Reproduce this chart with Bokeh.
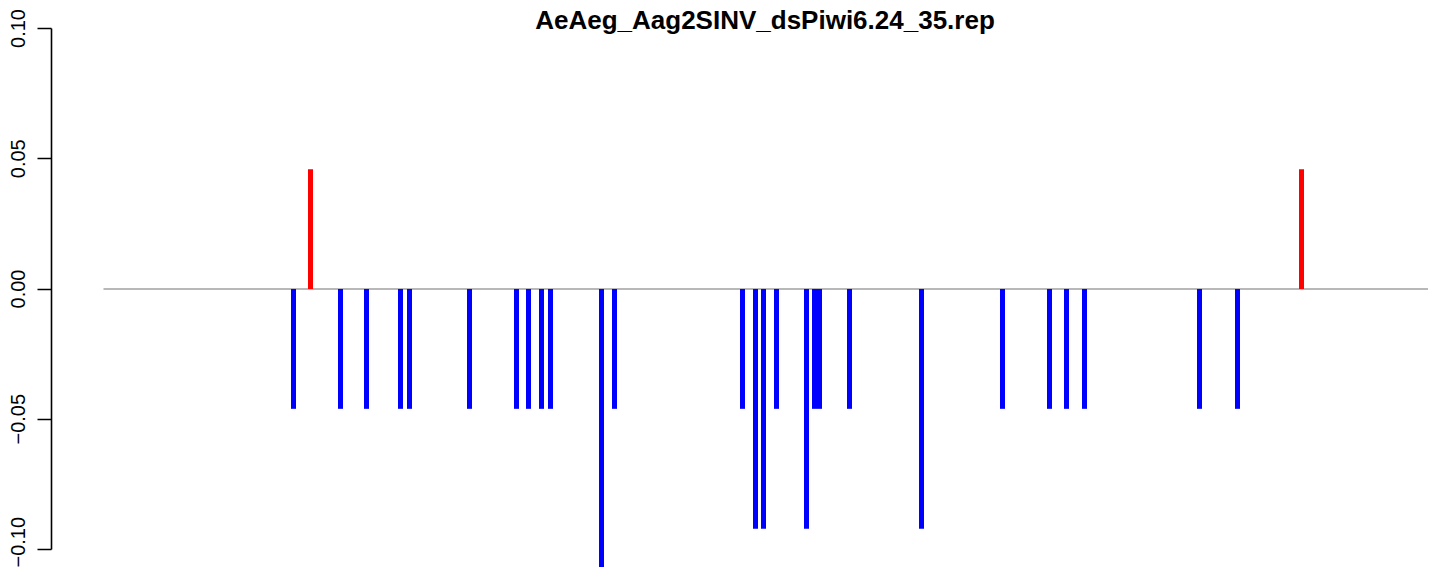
from bokeh.plotting import figure
from bokeh.models import Range1d, FixedTicker, CustomJSTickFormatter, Label
from bokeh.embed import file_html
from bokeh.resources import INLINE

# ---------------- data ----------------
TITLE = "AeAeg_Aag2SINV_dsPiwi6.24_35.rep"
REF_LENGTH = 1329          # extent of the zero baseline (position units)

# antisense (blue, negative) reads
NEG_POS = [190, 237, 263, 297, 306, 366, 413, 425, 438, 447, 498, 511,
           639, 652, 660, 673, 703, 711, 716, 746, 818, 899, 946, 963,
           981, 1096, 1134]
NEG_VAL = [-0.046, -0.046, -0.046, -0.046, -0.046, -0.046, -0.046, -0.046,
           -0.046, -0.046, -0.138, -0.046, -0.046, -0.092, -0.092, -0.046,
           -0.092, -0.046, -0.046, -0.046, -0.092, -0.046, -0.046, -0.046,
           -0.046, -0.046, -0.046]

# sense (red, positive) reads
POS_POS = [207, 1198]
POS_VAL = [0.046, 0.046]

Y_TICKS = [-0.10, -0.05, 0.0, 0.05, 0.10]

# ---------------- figure ----------------
W, H = 1428, 567
LEFT = 51
X_START = -52
Y_TOP = 0.110749
Y_BOTTOM = Y_TOP - H / 2605.0

p = figure(width=W, height=H, output_backend="svg", toolbar_location=None,
           x_range=Range1d(X_START, X_START + (W - LEFT)),
           y_range=Range1d(Y_BOTTOM, Y_TOP),
           min_border_left=LEFT, min_border_right=0, min_border_top=0,
           min_border_bottom=0)

p.outline_line_color = None
p.xgrid.visible = False
p.ygrid.visible = False
p.xaxis.visible = False
p.background_fill_color = "white"
p.border_fill_color = "white"

# zero baseline
p.segment(x0=[0], y0=[0], x1=[REF_LENGTH], y1=[0],
          line_color="#a0a0a0", line_width=1.6)

# bars
p.segment(x0=NEG_POS, y0=[0] * len(NEG_POS), x1=NEG_POS, y1=NEG_VAL,
          line_color="#0000ff", line_width=5, line_cap="butt")
p.segment(x0=POS_POS, y0=[0] * len(POS_POS), x1=POS_POS, y1=POS_VAL,
          line_color="#ff0000", line_width=5, line_cap="butt")

# y axis in R style
ax = p.yaxis[0]
ax.ticker = FixedTicker(ticks=Y_TICKS)
ax.bounds = (Y_TICKS[0], Y_TICKS[-1])
ax.formatter = CustomJSTickFormatter(
    code="return tick.toFixed(2).replace('-', '\u2212');")
ax.major_label_orientation = "vertical"
ax.major_label_text_font = "Liberation Sans"
ax.major_label_text_font_size = "20px"
ax.major_label_text_color = "black"
ax.major_label_standoff = 12
ax.major_tick_out = 14
ax.major_tick_in = 0
ax.minor_tick_out = 0
ax.minor_tick_in = 0
ax.axis_line_color = "black"
ax.axis_line_width = 1.6
ax.major_tick_line_color = "black"
ax.major_tick_line_width = 1.6

# title
p.add_layout(Label(x=REF_LENGTH / 2, y=Y_TOP, x_offset=-3, y_offset=-4,
                   text=TITLE, text_align="center", text_baseline="top",
                   text_font="Liberation Sans", text_font_style="bold",
                   text_font_size="26px", text_color="black"))

open("out.html", "w").write(file_html(p, INLINE))
